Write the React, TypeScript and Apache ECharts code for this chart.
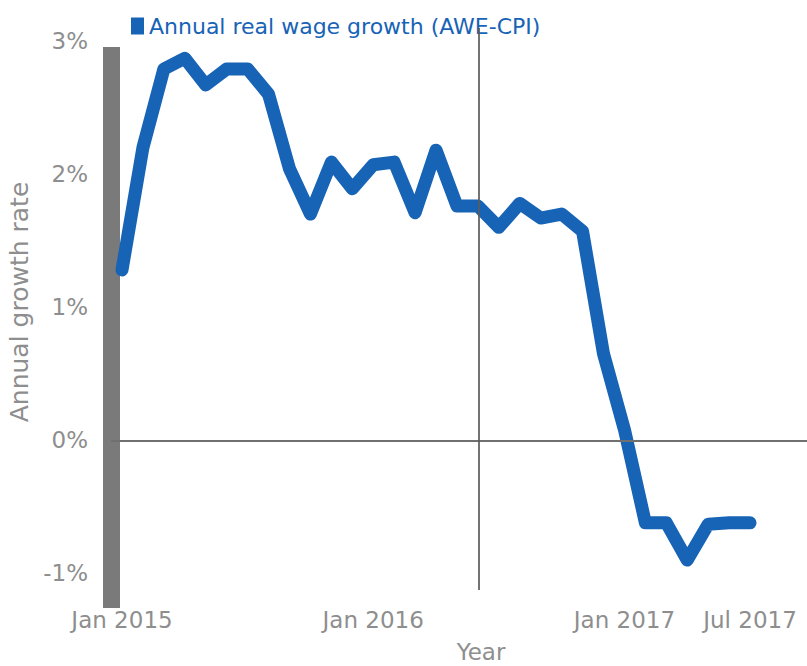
import React, { useEffect, useRef } from "react";
import * as echarts from "echarts";

const months: string[] = [
  "Jan 2015", "Feb 2015", "Mar 2015", "Apr 2015", "May 2015", "Jun 2015",
  "Jul 2015", "Aug 2015", "Sep 2015", "Oct 2015", "Nov 2015", "Dec 2015",
  "Jan 2016", "Feb 2016", "Mar 2016", "Apr 2016", "May 2016", "Jun 2016",
  "Jul 2016", "Aug 2016", "Sep 2016", "Oct 2016", "Nov 2016", "Dec 2016",
  "Jan 2017", "Feb 2017", "Mar 2017", "Apr 2017", "May 2017", "Jun 2017",
  "Jul 2017",
];

const realWageGrowth: number[] = [
  1.28, 2.2, 2.79, 2.87, 2.67, 2.79, 2.79, 2.6, 2.04, 1.7, 2.09, 1.89,
  2.07, 2.09, 1.71, 2.18, 1.76, 1.76, 1.6, 1.78, 1.67, 1.7, 1.57, 0.65,
  0.08, -0.62, -0.62, -0.9, -0.63, -0.62, -0.62,
];

const xTickLabels: string[] = ["Jan 2015", "Jan 2016", "Jan 2017", "Jul 2017"];
const yTickValues: number[] = [-1, 0, 1, 2, 3];
const markerMonth = 17.05;

const seriesName = "Annual real wage growth (AWE-CPI)";
const BLUE = "#1763b6";
const GREY_TEXT = "#8e8e8e";
const FONT = "DejaVu Sans";
const W = 807;
const H = 666;

export default function App() {
  const ref = useRef<HTMLDivElement>(null);

  useEffect(() => {
    if (!ref.current) return;
    const chart = echarts.init(ref.current, undefined, { renderer: "svg", width: W, height: H });
    const xMin = -0.526;
    const xMax = 32.72;
    const tickIdx = xTickLabels.map((l) => months.indexOf(l));

    chart.setOption({
      animation: false,
      backgroundColor: "#ffffff",
      legend: {
        data: [{ name: seriesName, icon: "rect" }],
        left: 126, top: 10, itemWidth: 13, itemHeight: 17, itemGap: 5,
        textStyle: { color: BLUE, fontSize: 22, fontFamily: FONT },
      },
      grid: [
        { left: 111, right: 0, top: 47, bottom: 58, outerBoundsMode: "none", containLabel: false },
        { left: 111, right: 0, top: 28, bottom: 76, outerBoundsMode: "none", containLabel: false },
      ],
      xAxis: [
        {
          type: "value", gridIndex: 0, min: xMin, max: xMax,
          axisLine: { show: false, onZero: false }, axisTick: { show: false }, splitLine: { show: false },
          axisLabel: {
            customValues: tickIdx,
            formatter: (v: number) => months[Math.round(v)] ?? "",
            color: GREY_TEXT, fontSize: 23, fontFamily: FONT, margin: 0,
          },
          name: "Year", nameLocation: "middle", nameGap: 32,
          nameTextStyle: { color: GREY_TEXT, fontSize: 23, fontFamily: FONT, padding: [0, 0, 0, 44] },
        },
        { type: "value", gridIndex: 1, min: xMin, max: xMax, show: false },
      ],
      yAxis: [
        {
          type: "value", gridIndex: 0, min: -1.26, max: 2.955,
          axisLine: { show: true, onZero: false, lineStyle: { color: "#7a7a7a", width: 17, cap: "butt" } },
          axisTick: { show: false }, axisLabel: { show: false }, splitLine: { show: false },
        },
        {
          type: "value", gridIndex: 1, min: -1.127, max: 3.095,
          axisLine: { show: false, onZero: false }, axisTick: { show: false }, splitLine: { show: false },
          axisLabel: {
            customValues: yTickValues, formatter: (v: number) => `${v}%`,
            color: GREY_TEXT, fontSize: 23, fontFamily: FONT, margin: 23,
          },
          name: "Annual growth rate", nameLocation: "middle", nameGap: 71,
          nameTextStyle: { color: GREY_TEXT, fontSize: 25, fontFamily: FONT, padding: [0, 0, 0, 14] },
        },
      ],
      series: [
        {
          name: seriesName, type: "line", xAxisIndex: 0, yAxisIndex: 0,
          data: realWageGrowth.map((v, i) => [i, v]),
          showSymbol: false, symbol: "none", clip: false,
          itemStyle: { color: BLUE },
          lineStyle: { color: BLUE, width: 13, cap: "round", join: "round" },
          z: 3,
          markLine: {
            silent: true, symbol: "none", label: { show: false },
            lineStyle: { color: "#707070", width: 2, type: "solid" },
            data: [{ yAxis: 0 }], z: 5,
          },
        },
        {
          name: "marker", type: "line", xAxisIndex: 1, yAxisIndex: 1, data: [], z: 5,
          markLine: {
            silent: true, symbol: "none", label: { show: false },
            lineStyle: { color: "rgba(90,90,90,0.85)", width: 2, type: "solid" },
            data: [{ xAxis: markerMonth }],
          },
        },
      ],
    });
    return () => chart.dispose();
  }, []);

  return <div ref={ref} style={{ position: "fixed", left: 0, top: 0, width: W, height: H }} />;
}
